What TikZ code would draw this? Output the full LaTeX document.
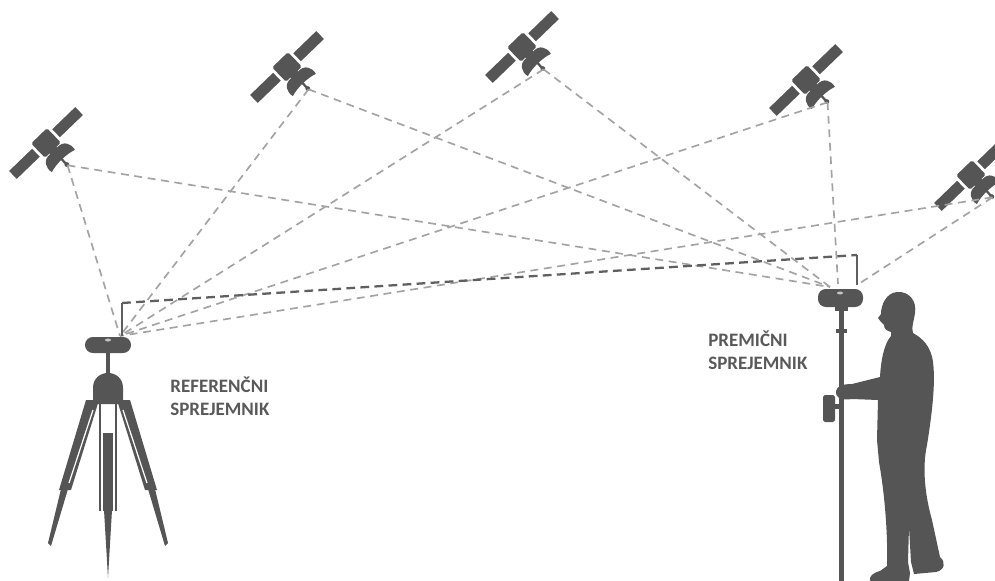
\documentclass[tikz,border=0pt]{standalone}
\usepackage{fontspec}
\setmainfont{Carlito}
\usepackage{color}

\definecolor{sil}{RGB}{85,85,85}
\definecolor{raygray}{RGB}{163,163,163}
\definecolor{linkgray}{RGB}{95,95,95}
\definecolor{labelgray}{RGB}{89,89,89}

\tikzset{
  ray/.style={color=raygray, line width=0.95pt, dash pattern=on 4.5pt off 3.2pt},
  radiolink/.style={color=linkgray, line width=1.3pt},
  lbl/.style={anchor=base west, inner sep=0pt, text=labelgray,
    font=\fontsize{10.8}{13}\selectfont\bfseries},
  satellite/.pic={
    \begin{scope}[rotate=44]
      % solar panels
      \fill[sil] (-46,-5.5) rectangle (-14,5.5);
      \fill[sil] (14,-5.5) rectangle (46,5.5);
      % body
      \fill[sil, rounded corners=1pt] (-11,-10) rectangle (11,10);
      % dish
      \fill[sil] (-4,8) -- (-5,11) .. controls (-14,10) and (-18,18) .. (-16,25)
        .. controls (-7,22) and (7,22) .. (16,25)
        .. controls (18,18) and (14,10) .. (5,11) -- (4,8) -- cycle;
      \draw[sil, line width=1.3pt] (0,21) -- (0,29);
      \fill[sil] (0,30) circle (2.4);
      \coordinate (-tip) at (0,31);
    \end{scope}
  },
}

\begin{document}
\begin{tikzpicture}[%
      x=0.02cm, y=-0.02cm,
      ]
      \useasboundingbox (0,0) rectangle (995,581);
      \clip (0,0) rectangle (995,581);

      % satellites
      \pic (s1) at (46,143) {satellite};
      \pic (s2) at (287,67) {satellite};
      \pic (s3) at (522,47) {satellite};
      \pic (s4) at (806,80) {satellite};
      \pic (s5) at (971,175) {satellite};

      % antenna phase centres
      \coordinate (refant) at (120,336);
      \coordinate (reflink) at (122,336);
      \coordinate (refup) at (122,303);
      \coordinate (rovant) at (830,287);
      \coordinate (rovmid) at (838,284);
      \coordinate (rovright) at (857,285);
      \coordinate (rovup) at (857,255);

      % signals
      \foreach \s in {1,...,5}
        \draw [ray] (s\s-tip) -- (refant);
      \foreach \s in {1,2,3}
        \draw [ray] (s\s-tip) -- (rovant);
      \draw [ray] (s4-tip) -- (rovmid);
      \draw [ray] (s5-tip) -- (rovright);

      % correction link
      \draw [radiolink] (reflink) -- (refup);
      \draw [radiolink, dash pattern=on 5pt off 3pt] (refup) -- (rovup);
      \draw [radiolink] (rovup) -- (rovright);

      % reference receiver on tripod
      \fill [sil, rounded corners=4.5pt] (85,337) rectangle (131,353);
      \fill [sil!35] (108,340) ellipse (3 and 1.5);
      \fill [sil] (106,352) rectangle (110,376);
      \fill [sil] (93,404) -- (93,388) .. controls (93,368) and (123,368) .. (123,388)
        -- (123,404) -- cycle;
      % legs
      \fill [sil] (86,400) -- (99,400) -- (71,490) -- (59,490) -- cycle;
      \fill [sil] (130,400) -- (117,400) -- (145,490) -- (157,490) -- cycle;
      \draw [white, line width=0.7pt] (93,410) -- (69,483);
      \draw [white, line width=0.7pt] (123,410) -- (147,483);
      \fill [sil] (61,489) -- (68,489) -- (51,546) -- (48,543) -- cycle;
      \fill [sil] (155,489) -- (148,489) -- (165,546) -- (168,543) -- cycle;
      \draw [sil, line width=1.1pt] (100,400) -- (100,511);
      \draw [sil, line width=1.1pt] (116,400) -- (116,511);
      \fill [sil] (103,433) rectangle (113,511);
      \fill [sil] (104,510) -- (112,510) -- (108,578) -- cycle;

      % rover pole
      \fill [sil] (839,305) rectangle (844,581);
      \fill [sil] (836,329) rectangle (847,333);
      \fill [sil] (835,305) rectangle (848,311);
      \fill [sil, rounded corners=4.5pt] (818,289) rectangle (863,307);
      \fill [sil!35] (840,293) ellipse (3 and 1.5);
      \fill [sil, rounded corners=1pt] (823,395) rectangle (835,422);
      \fill [sil] (835,404) rectangle (840,409);

      % surveyor
      \fill [sil] (897,292)
        .. controls (909,291) and (917,301) .. (915,313)
        .. controls (914,321) and (911,327) .. (913,333)
        .. controls (922,338) and (931,346) .. (933,362)
        .. controls (936,385) and (931,420) .. (927,445)
        .. controls (922,468) and (925,495) .. (932,520)
        -- (940,557)
        .. controls (946,562) and (945,570) .. (936,572)
        -- (914,574) -- (911,562) -- (909,527) -- (908,562)
        -- (910,573) -- (909,581) -- (870,581)
        .. controls (869,576) and (873,573) .. (880,571)
        -- (887,566)
        .. controls (888,530) and (884,490) .. (879,462)
        -- (877,440) -- (878,400) -- (852,399)
        .. controls (840,401) and (835,397) .. (836,391)
        .. controls (837,386) and (843,384) .. (852,384)
        -- (880,377)
        .. controls (881,360) and (884,344) .. (891,336)
        -- (891,332)
        .. controls (887,331) and (884,329) .. (884,325)
        -- (881,322) -- (878,318) -- (881,314)
        .. controls (881,305) and (886,293) .. (897,292) -- cycle;

      % labels
      \node [lbl] (reflabA) at (170,392) {REFERENČNI};
      \node [lbl] (reflabB) at (170,415) {SPREJEMNIK};
      \node [lbl] (rovlabA) at (708,346) {PREMIČNI};
      \node [lbl] (rovlabB) at (708,369) {SPREJEMNIK};
\end{tikzpicture}
\end{document}
